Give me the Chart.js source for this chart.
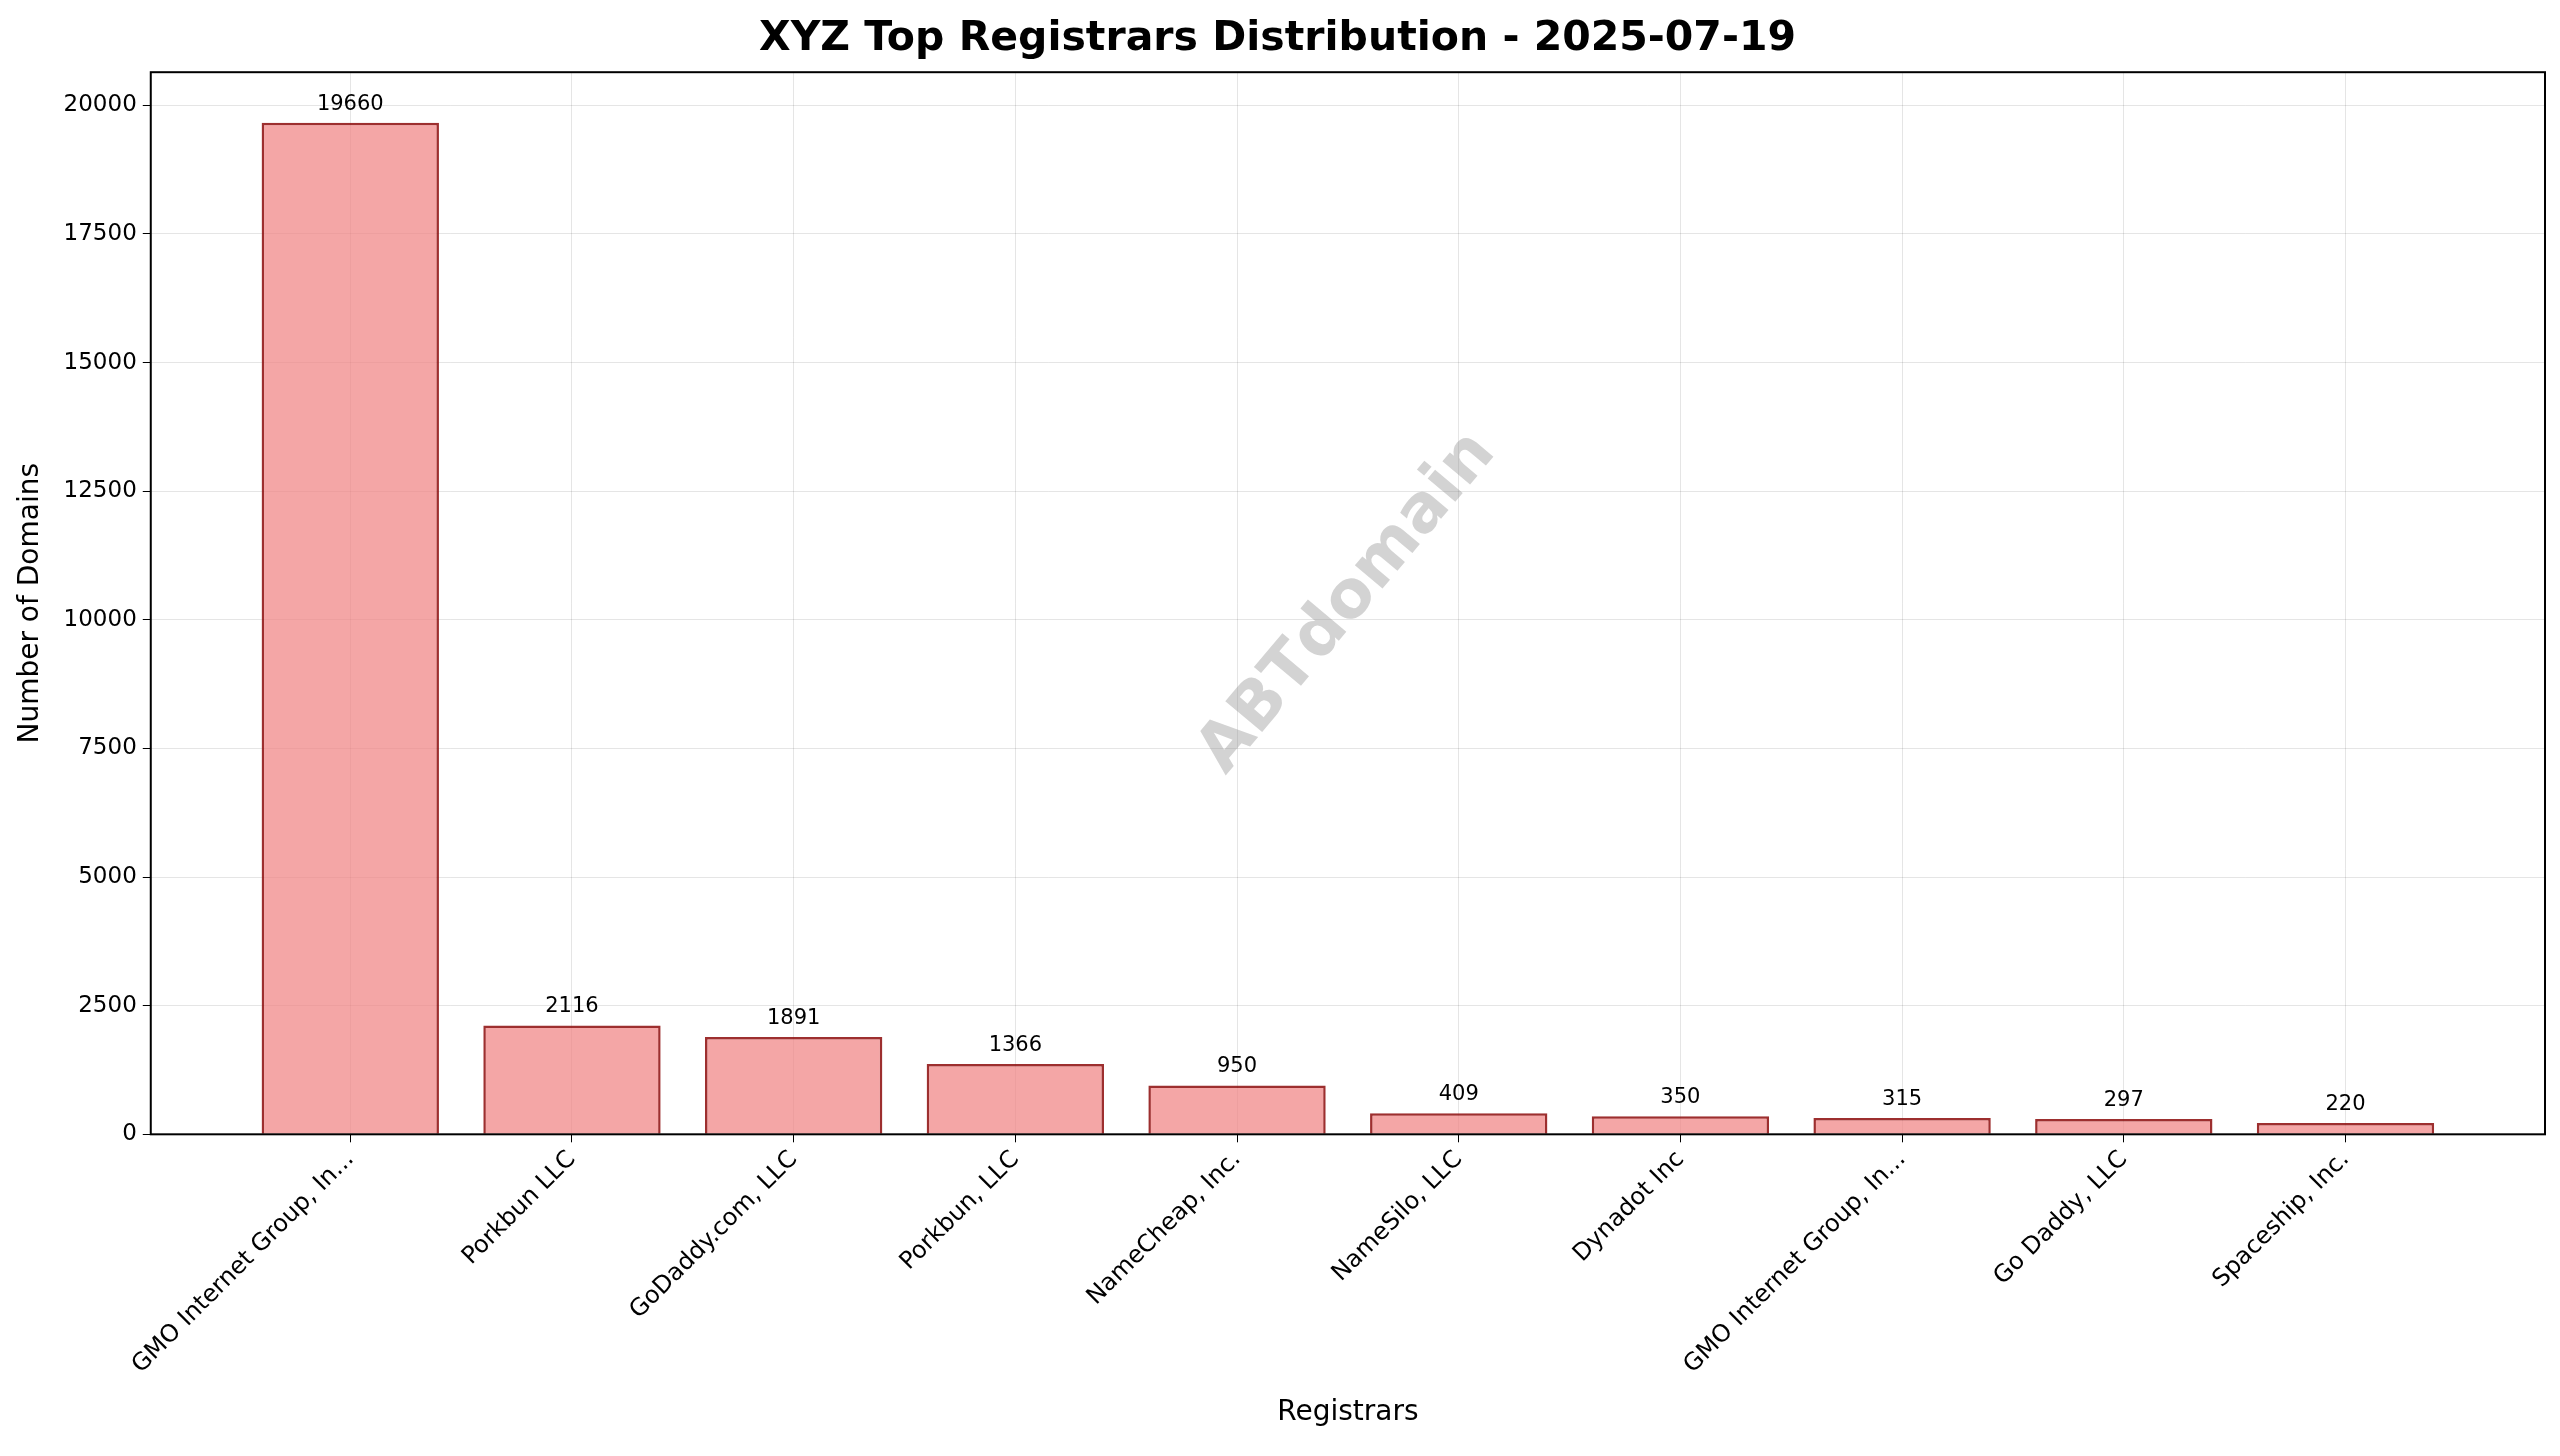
<!DOCTYPE html>
<html><head><meta charset="utf-8">
<script src="https://cdn.jsdelivr.net/npm/chart.js@4"></script>
<style>html,body{margin:0;background:#fff}</style>
</head><body>
<canvas id="c" width="2560" height="1456"></canvas>
<script>
const registrars = ["GMO Internet Group, In...","Porkbun LLC","GoDaddy.com, LLC","Porkbun, LLC","NameCheap, Inc.","NameSilo, LLC","Dynadot Inc","GMO Internet Group, In...","Go Daddy, LLC","Spaceship, Inc."];
const domains = [19660,2116,1891,1366,950,409,350,315,297,220];
const yTicks = [0,2500,5000,7500,10000,12500,15000,17500,20000];
const F = "'DejaVu Sans', sans-serif";
const extras = {
  id:'extras',
  afterDatasetsDraw(ch){
    const {ctx, chartArea:a} = ch;
    const meta = ch.getDatasetMeta(0);
    ctx.save();
    ctx.font = `21px ${F}`; ctx.fillStyle='#000'; ctx.textAlign='center'; ctx.textBaseline='bottom';
    meta.data.forEach((b,i)=>ctx.fillText(String(domains[i]), b.x, b.y-8));
    ctx.strokeStyle='#000'; ctx.lineWidth=2;
    ctx.strokeRect(a.left,a.top,a.right-a.left,a.bottom-a.top);
    ctx.translate((a.left+a.right)/2,(a.top+a.bottom)/2);
    ctx.rotate(-50*Math.PI/180);
    ctx.font = `bold 66px ${F}`; ctx.fillStyle='rgba(128,128,128,0.35)'; ctx.textBaseline='middle';
    ctx.fillText('ABTdomain',0,0);
    ctx.restore();
  }
};
new Chart(document.getElementById('c'),{
  type:'bar',
  data:{datasets:[{data:domains.map((v,i)=>({x:i,y:v})),backgroundColor:'rgba(240,128,128,0.7)',borderColor:'rgba(140,10,10,0.85)',borderWidth:2.5,barPercentage:0.8,categoryPercentage:1}]},
  options:{
    responsive:false,animation:false,
    layout:{padding:{left:10,right:15,top:5,bottom:22}},
    plugins:{legend:{display:false},tooltip:{enabled:false},
      title:{display:true,text:'XYZ Top Registrars Distribution - 2025-07-19',font:{family:F,size:41,weight:'bold'},color:'#000',padding:{top:10,bottom:8}}},
    scales:{
      x:{type:'linear',min:-0.9,max:9.9,offset:false,
        afterBuildTicks(s){s.ticks=registrars.map((_,i)=>({value:i}));},
        ticks:{autoSkip:false,maxRotation:45,minRotation:45,color:'#000',font:{family:F,size:24},callback:v=>registrars[v]},
        grid:{offset:false,color:'rgba(0,0,0,0.1)',drawTicks:true,tickColor:'#000',tickLength:8},border:{display:false},
        title:{display:true,text:'Registrars',font:{family:F,size:28},color:'#000',padding:{top:14}}},
      y:{min:0,max:20643,
        afterBuildTicks(s){s.ticks=yTicks.map(v=>({value:v}));},
        ticks:{color:'#000',font:{family:F,size:23},padding:6,callback:v=>String(v)},
        grid:{color:'rgba(0,0,0,0.1)',tickColor:'#000',tickLength:8},border:{display:false},
        title:{display:true,text:'Number of Domains',font:{family:F,size:28},color:'#000',padding:{bottom:10}}}
    }
  },
  plugins:[extras]
});
</script>
</body></html>
